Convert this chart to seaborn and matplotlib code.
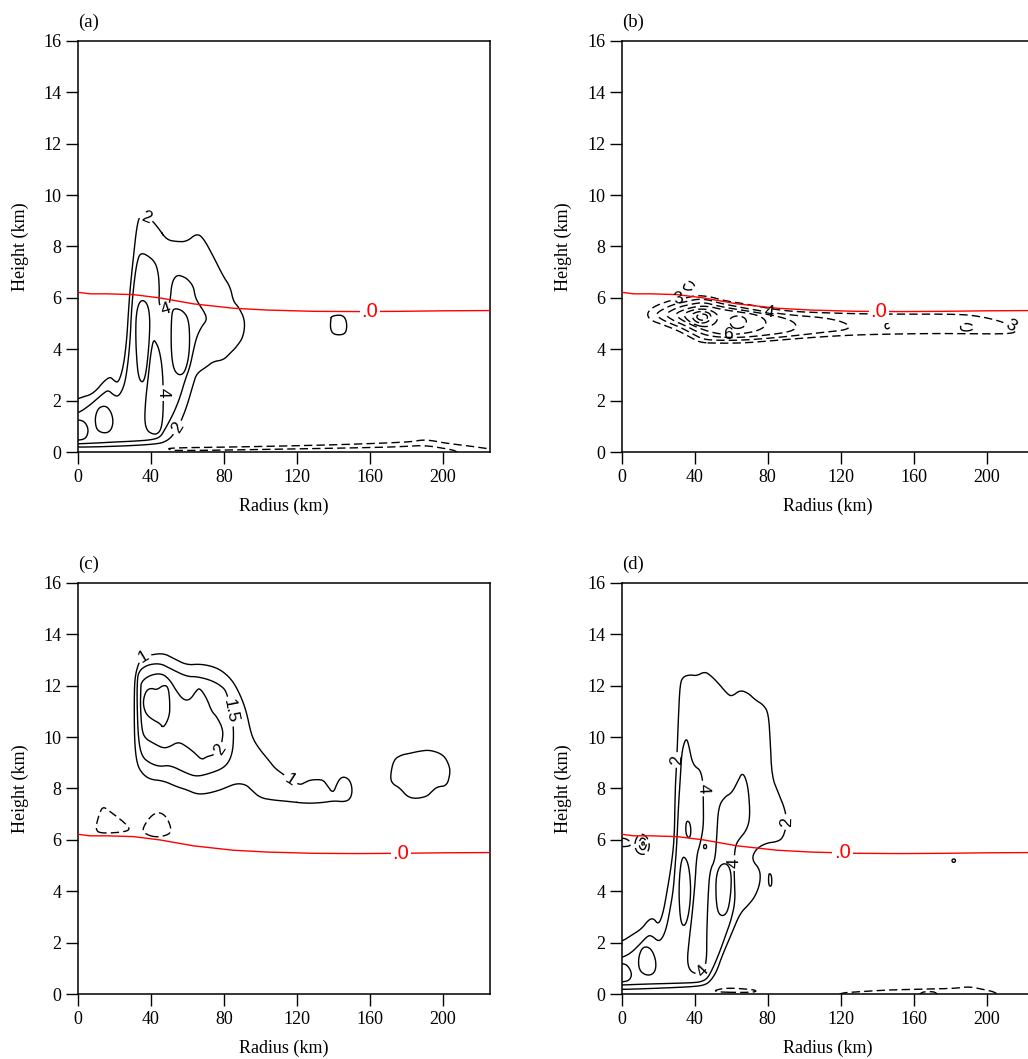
import numpy as np
import pandas as pd
import matplotlib
matplotlib.use("Agg")
import matplotlib.pyplot as plt
from matplotlib.path import Path
import seaborn as sns

# ------------------------------------------------------------------
# Values (radius in km, height in km)
# ------------------------------------------------------------------
X_TICKS = [0, 40, 80, 120, 160, 200]
Y_TICKS = [0, 2, 4, 6, 8, 10, 12, 14, 16]
PANEL_TAGS = ["(a)", "(b)", "(c)", "(d)"]
X_LABEL = "Radius (km)"
Y_LABEL = "Height (km)"

# 0 degC isotherm (red line, identical in all panels)
ISO_R = [0, 6.6, 15.7, 30.3, 45.0, 63.3, 85.2, 103.5, 129.0, 152.9, 176.6, 200.0, 226.0]
ISO_Z = [6.22, 6.16, 6.16, 6.13, 6.00, 5.77, 5.60, 5.53, 5.48, 5.47, 5.48, 5.50, 5.51]
ISO_TEXT = ".0"

# ---------------- panel (a): contour outlines (r, z) ----------------
A_LEVELS = [-2, 2, 4, 6]
A_RING2 = [(-5, 1.95), (2.9, 2.16), (6.6, 2.23), (10.2, 2.42), (13.9, 2.74), (17.6, 2.94), (19.4, 2.81),
           (22.1, 2.68), (24.9, 3.33), (26.7, 4.37), (27.6, 5.4), (28.5, 6.31), (30.4, 7.61), (32.2, 8.77),
           (34, 9.23), (37, 9.15), (40.4, 9.03), (44.1, 8.71), (48.6, 8.26), (54.1, 8.19), (59.6, 8.19),
           (65.1, 8.51), (68.8, 8.32), (74.2, 7.61), (79.7, 6.83), (83.4, 6.44), (85.2, 5.86), (87.9, 5.66),
           (91.6, 5.14), (90.7, 4.5), (87, 4.11), (83.4, 3.85), (79.7, 3.59), (74.2, 3.53), (70.6, 3.33),
           (65.1, 3.07), (63.3, 2.68), (59.6, 1.77), (56, 1.13), (54.1, 0.92), (51.4, 0.6), (48, 0.42),
           (44, 0.33), (30, 0.26), (10, 0.21), (-5, 0.2)]
A_RING4 = [(-5, 1.5), (0.2, 1.52), (6.6, 1.84), (10, 2.05), (13.9, 2.29), (16.6, 2.42), (19.4, 2.23),
           (22.1, 2.16), (24.9, 2.5), (26.7, 3.07), (28.5, 4.24), (29.4, 5.66), (31.3, 6.96), (33.1, 7.61),
           (34.9, 7.74), (37.7, 7.67), (42.2, 7.41), (44.1, 6.96), (44.6, 6.31), (44.3, 5.8), (46, 5.55),
           (48.5, 5.55), (50.5, 5.85), (51.4, 6.6), (54.1, 6.9), (57.8, 6.83), (60.5, 6.7), (63.3, 6.44),
           (64.2, 6.05), (66, 5.79), (69.7, 5.4), (70.6, 5.14), (67.8, 4.89), (65.1, 4.5), (63.3, 3.98),
           (61.4, 3.33), (58.7, 2.81), (56, 2.16), (53.2, 1.65), (50.5, 1.26), (47.7, 0.9), (45, 0.58),
           (40, 0.48), (30, 0.43), (20, 0.4), (10, 0.36), (0, 0.33), (-5, 0.33)]
A_CELL_CORNER = [(-5, 1.25), (2, 1.26), (4.6, 1.1), (5.7, 0.85), (4.8, 0.6), (2.5, 0.48), (-5, 0.46)]
A_CELL_LOW = [(12.1, 1.77), (15.7, 1.8), (18.5, 1.52), (19.4, 1.13), (17.6, 0.8), (13.9, 0.74), (10.2, 0.87),
              (9.3, 1.26), (10.2, 1.58)]
A_CELL_TALL = [(34, 5.92), (37.5, 5.86), (39.3, 5.4), (39.3, 4.6), (38.2, 3.6), (36.8, 2.9), (35, 2.68),
               (32.8, 3.0), (31.6, 4.3), (31.8, 5.4)]
A_CELL_LOBE = [(51.5, 5.5), (53.5, 5.6), (57.5, 5.5), (60.5, 5.2), (61.3, 4.5), (60.8, 3.7), (58.5, 3.1),
               (55.5, 2.98), (52.5, 3.2), (51.2, 3.8), (51, 4.7)]
A_HOLE = [(41.3, 4.37), (42.5, 4.3), (44.5, 4.0), (46.2, 3.3), (46.8, 2.3), (46.6, 1.4), (45.5, 0.88),
          (43.2, 0.7), (40.5, 0.72), (37.8, 0.85), (36.5, 1.2), (37, 2.0), (38.6, 3.0), (39.8, 3.8)]
A_BLOB = [(139, 5.3), (145, 5.35), (147.3, 5.1), (147.2, 4.7), (145, 4.56), (140, 4.58), (138.3, 4.8),
          (138.5, 5.15)]
A_NEG = [(49.4, 0.17), (80, 0.2), (110, 0.24), (140, 0.29), (165, 0.35), (183, 0.41), (188.3, 0.48),
         (193.8, 0.46), (201, 0.36), (215, 0.24), (226.7, 0.12), (232, 0.08), (232, -0.3), (208.5, -0.3),
         (208.5, 0.04), (201, 0.15), (190, 0.27), (180, 0.23), (165, 0.19), (110, 0.12), (55, 0.06), (50, 0.1)]

# ---------------- panel (b) ----------------
B_LEVELS = [-9, -8, -7, -6, -5, -4, -3]
B_C3 = [(13.7, 5.40), (17.4, 5.66), (24.7, 5.86), (30.0, 5.95), (35.3, 6.00), (41.1, 6.10), (48.5, 6.05),
        (55.8, 5.90), (64.9, 5.80), (74.1, 5.68), (90.5, 5.48), (116.0, 5.41), (134.4, 5.38), (152.7, 5.37),
        (185.6, 5.37), (196.6, 5.28), (207.5, 5.10), (213.0, 4.92), (216.7, 4.72), (213.0, 4.60),
        (189.3, 4.61), (171.0, 4.62), (134.4, 4.58), (116.1, 4.52), (97.8, 4.43), (79.5, 4.32),
        (66.7, 4.25), (53.9, 4.24), (43.0, 4.26), (37.5, 4.48), (30.2, 4.75), (22.9, 4.95), (15.5, 5.14)]
B_C4 = [(18.5, 5.38), (24.0, 5.62), (30.0, 5.78), (36.0, 5.87), (42.0, 5.96), (48.0, 5.92), (54.0, 5.79),
        (62.0, 5.68), (70.0, 5.57), (81.0, 5.44), (95.0, 5.32), (110.0, 5.24), (120.0, 5.10), (125.0, 4.92),
        (123.5, 4.76), (110.0, 4.66), (97.0, 4.55), (82.0, 4.44), (67.0, 4.36), (55.0, 4.35), (45.0, 4.38),
        (40.0, 4.56), (33.0, 4.83), (26.0, 5.03), (21.0, 5.20)]
B_C5 = [(23.5, 5.36), (30.0, 5.62), (38.0, 5.76), (45.0, 5.83), (52.0, 5.70), (60.0, 5.59), (70.0, 5.48),
        (82.0, 5.34), (91.0, 5.18), (95.5, 5.00), (95.5, 4.80), (91.0, 4.67), (80.0, 4.56), (67.0, 4.47),
        (57.0, 4.46), (48.0, 4.52), (42.0, 4.66), (35.0, 4.92), (28.0, 5.13)]
B_C6 = [(29.0, 5.38), (35.0, 5.57), (42.0, 5.68), (48.0, 5.67), (55.0, 5.55), (65.0, 5.45), (74.0, 5.35),
        (79.0, 5.15), (79.0, 4.90), (74.0, 4.71), (66.0, 4.61), (58.5, 4.57), (51.0, 4.63), (44.0, 4.78),
        (37.0, 5.00), (32.0, 5.18)]
B_C7 = [(33.5, 5.36), (38.0, 5.52), (44.0, 5.58), (49.0, 5.52), (53.0, 5.33), (52.0, 5.05), (48.0, 4.88),
        (42.0, 4.90), (36.5, 5.10)]
B_C8 = [(37.8, 5.33), (41.0, 5.46), (45.5, 5.48), (49.0, 5.37), (48.5, 5.13), (45.0, 5.01), (40.5, 5.06)]
B_C9 = [(40.8, 5.29), (43.0, 5.38), (46.5, 5.36), (47.3, 5.22), (45.0, 5.12), (42.0, 5.16)]
B_OVAL = [(60.0, 5.25), (64.0, 5.32), (67.8, 5.22), (68.6, 5.03), (66.5, 4.84), (62.0, 4.80), (59.6, 4.95),
          (59.3, 5.13)]
B_CAP = [(33.5, 6.38), (35.0, 6.60), (37.0, 6.66), (39.5, 6.55), (40.2, 6.38), (38.0, 6.31), (35.5, 6.31)]
B_DOT = [(144.5, 5.00), (146.5, 5.02), (147.2, 4.86), (145.5, 4.78), (144.3, 4.86)]
B_OVAL2 = [(186.0, 4.95), (189.0, 5.02), (192.5, 4.95), (192.9, 4.79), (190.0, 4.71), (186.5, 4.73),
           (185.6, 4.84)]

# ---------------- panel (c) ----------------
C_LEVELS = [-1, 1, 1.5, 2, 2.5]
C_L1 = [(34, 13.0), (35.8, 13.15), (39.5, 13.19), (46.8, 13.26), (52.3, 13.06), (59.6, 12.8), (66.9, 12.84),
        (74.2, 12.74), (79.7, 12.54), (85.2, 12.15), (89.8, 11.5), (92.5, 10.92), (94.4, 10.28), (96.2, 9.89),
        (99.8, 9.5), (104.4, 9.11), (108, 8.78), (112.6, 8.55), (116.3, 8.33), (118.1, 8.27), (121.8, 8.14),
        (124.5, 8.24), (127.3, 8.33), (132, 8.35), (134.6, 8.31), (136.4, 8.14), (139.8, 7.8), (142, 8.2),
        (144, 8.42), (146.5, 8.45), (149.2, 8.3), (150.4, 7.95), (149.5, 7.62), (146.5, 7.48), (140.1, 7.52),
        (134, 7.45), (125, 7.42), (115, 7.5), (107, 7.55), (99.8, 7.64), (95, 7.95), (92, 8.15), (87, 8.2),
        (81.5, 8.05), (77.9, 7.94), (70.6, 7.8), (65.1, 7.78), (59.6, 7.95), (54.1, 8.07), (46.8, 8.3),
        (39.5, 8.35), (35, 8.59), (32.2, 8.98), (30.9, 9.89), (30.8, 11.83), (31.6, 12.5)]
C_L15 = [(32.4, 12.09), (33.1, 12.54), (37.6, 12.8), (44.9, 12.87), (50.4, 12.67), (59.6, 12.35),
         (65.1, 12.35), (72.4, 12.22), (77.9, 12.02), (81.5, 11.77), (83.4, 11.05), (85.2, 10.54),
         (85.2, 9.63), (83.4, 9.11), (79.7, 8.79), (72.4, 8.59), (65.1, 8.46), (59.6, 8.59), (50.4, 8.91),
         (44.9, 8.85), (39.5, 8.98), (35, 9.24), (33.1, 9.89), (32.4, 11.18)]
C_L2 = [(34.4, 11.83), (34.6, 12.15), (39.5, 12.41), (45.9, 12.48), (50.4, 12.22), (54.1, 11.77),
        (57.8, 11.44), (61.4, 11.44), (65.1, 11.83), (66.9, 11.9), (70.6, 11.5), (73.3, 10.99), (76.1, 10.79),
        (79.7, 10.27), (78.8, 9.76), (77.9, 9.5), (74.2, 9.3), (70.6, 9.24), (67.8, 9.11), (64.2, 9.37),
        (59.6, 9.63), (55, 9.82), (50.4, 9.63), (46.8, 9.56), (41.3, 9.76), (36.8, 9.95), (35, 10.27),
        (34.2, 11.18)]
C_L25 = [(37.6, 11.83), (40.4, 11.9), (43.1, 11.83), (46.8, 12.02), (49.5, 11.96), (50.4, 11.31),
         (50.1, 10.79), (46.8, 10.34), (44.9, 10.53), (41.3, 10.66), (37.6, 10.86), (35.9, 11.18), (35.9, 11.5)]
C_BLOB = [(171.2, 8.5), (173, 9.11), (177, 9.3), (182.1, 9.37), (187, 9.45), (193.1, 9.5), (200.4, 9.31),
          (203.5, 8.9), (204, 8.59), (202.2, 8.1), (196.8, 8.07), (193.5, 7.85), (191.2, 7.69), (185, 7.6),
          (180.3, 7.69), (176.6, 8.01), (172, 8.2)]
C_NEG1 = [(10.2, 6.65), (12.1, 7.1), (13.9, 7.3), (17.6, 7.1), (21.2, 6.91), (25.8, 6.65), (28.9, 6.39),
          (23, 6.29), (12.1, 6.26), (9.9, 6.39)]
C_NEG2 = [(34.9, 6.39), (39.5, 6.91), (44.1, 7.1), (48.6, 6.91), (51.4, 6.39), (49.6, 6.2), (43.2, 6.1),
          (37.7, 6.2)]

# ---------------- panel (d) ----------------
D_LEVELS = [-2, 2, 4, 6]
D_RING2 = [(-5, 2.05), (0, 2.05), (5.5, 2.3), (11, 2.55), (14.6, 2.89), (17.4, 2.96), (20.1, 2.7), (22.5, 3.1),
           (24.7, 3.93), (27.4, 5.1), (28.9, 6.13), (29.3, 7.95), (30.2, 9.11), (31.1, 10.8), (32, 12.09),
           (33.8, 12.35), (37.5, 12.42), (41.1, 12.38), (45.7, 12.55), (49.4, 12.35), (53, 12.09),
           (57.6, 11.7), (60.3, 11.57), (64.9, 11.83), (69.5, 11.7), (73.1, 11.45), (77.7, 11.25),
           (80.4, 10.93), (81.4, 9.89), (82.3, 8.46), (85.9, 7.82), (89.6, 7.17), (90.5, 6.65), (88.7, 6.13),
           (85.9, 5.94), (78.6, 5.87), (73.1, 5.61), (71.3, 5.23), (75.9, 4.84), (75.9, 4.32), (73.1, 3.8),
           (69.5, 3.48), (64.9, 3.15), (60.3, 2.37), (54.9, 1.47), (52.1, 0.9), (49, 0.55), (46, 0.37),
           (40, 0.3), (25, 0.25), (10, 0.21), (0, 0.19), (-5, 0.19)]
D_RING4 = [(-5, 1.42), (0, 1.42), (5, 1.6), (10, 1.95), (14.6, 2.3), (17, 2.25), (20.1, 2.05), (22.5, 2.2),
           (24.7, 2.63), (26.5, 3.3), (28.3, 4.06), (29.3, 5.0), (30.2, 5.87), (31.1, 7.3), (32.2, 8.5),
           (32.9, 9.37), (34.5, 9.85), (35.8, 9.92), (37, 9.6), (38.4, 9.1), (40.2, 8.85), (43, 8.72),
           (44.5, 8.3), (44.8, 7.3), (44.8, 6.5), (43, 5.85), (41.1, 5.4), (40.2, 4.32), (38.6, 3.1),
           (36.8, 2.0), (35.9, 1.3), (37.3, 0.92), (41.1, 0.78), (44.8, 0.88), (46.6, 1.34), (46.6, 2.37),
           (47.5, 4.06), (48.5, 4.84), (51.2, 5.23), (52.1, 6.13), (53, 7.3), (56.7, 7.69), (60.3, 7.82),
           (64, 8.33), (65.8, 8.59), (67.7, 8.46), (69.5, 7.95), (70.4, 6.91), (68.6, 6.39), (64, 6.0),
           (62.2, 5.74), (61.5, 5.1), (61.8, 4.4), (62.2, 3.6), (60, 2.9), (57, 2.3), (54.5, 1.8), (52, 1.35),
           (49.5, 0.95), (47, 0.62), (44, 0.5), (40, 0.45), (25, 0.42), (10, 0.39), (0, 0.36), (-5, 0.36)]
D_CELL_CORNER = [(-5, 1.2), (1.5, 1.2), (4, 1.05), (5.5, 0.8), (4.8, 0.6), (2.5, 0.49), (-5, 0.47)]
D_CELL_LOW = [(11, 1.79), (13.7, 1.86), (16.5, 1.73), (18.7, 1.34), (18.7, 0.95), (16.5, 0.75), (12.8, 0.75),
              (9.5, 0.95), (9.1, 1.4)]
D_CELL_SMALL = [(35.8, 6.75), (37.3, 6.68), (38, 6.4), (37.6, 6.12), (36.2, 6.08), (35.1, 6.3), (35.2, 6.6)]
D_CELL_TALL = [(32.9, 5.29), (34.7, 5.35), (36.9, 4.97), (38, 4.06), (36.9, 3.15), (34.7, 2.63), (32.4, 2.76),
               (31.4, 3.67), (31.6, 4.58)]
D_CELL_OVAL = [(53.9, 5.03), (57.6, 5.1), (60, 4.77), (60, 4.06), (58.5, 3.28), (55.8, 3.02), (52.7, 3.15),
               (51.6, 3.8), (51.7, 4.58)]
D_DOT4 = [(44.9, 5.82), (46.5, 5.82), (46.5, 5.66), (44.9, 5.66)]
D_DOT2 = [(181.1, 5.26), (182.9, 5.26), (182.9, 5.13), (181.1, 5.13)]
D_SPECK2 = [(81, 4.72), (82.2, 4.6), (82.3, 4.25), (81.3, 4.18), (80.5, 4.3), (80.5, 4.6)]
D_NEG_EDGE = [(-5, 6.05), (1.5, 6.08), (4.5, 5.95), (5.2, 5.82), (3.5, 5.74), (-5, 5.74)]
D_NEG_RING = [(7, 5.85), (8.5, 6.15), (11.5, 6.25), (14.5, 6.05), (15.3, 5.75), (14, 5.48), (11, 5.42),
              (8, 5.55)]
D_NEG_HOLE = [(9.3, 5.85), (10.5, 6.08), (12.7, 6.06), (13.7, 5.85), (12.7, 5.63), (10.5, 5.62)]
D_NEG_DOT = [(11.1, 5.92), (12.3, 5.92), (12.3, 5.79), (11.1, 5.79)]
D_NEG_BAND1 = [(51, 0.15), (55, 0.22), (60, 0.24), (67, 0.21), (73, 0.17), (74, 0.1), (68, 0.07), (57, 0.08),
               (52, 0.1)]
D_NEG_BAND2 = [(118, 0.04), (130, 0.1), (146.5, 0.17), (165, 0.2), (183, 0.23), (190.2, 0.3), (197.5, 0.2),
               (206.2, 0.06), (208, -0.3), (175, -0.3), (172.8, 0.08), (168, 0.11), (163.6, 0.07), (161, -0.3),
               (118, -0.3)]

# ------------------------------------------------------------------
# Layout / style (kept apart from the data)
# ------------------------------------------------------------------
R_MAX, Z_MAX = 226.0, 16.0
AX_POS = [[0.07588, 0.57290, 0.40107, 0.38867],
          [0.60477, 0.57290, 0.40107, 0.38867],
          [0.07588, 0.06110, 0.40107, 0.38867],
          [0.60477, 0.06110, 0.40107, 0.38867]]
PXR = 412.3 / R_MAX      # display px per km (radius)
PXZ = 411.6 / Z_MAX      # display px per km (height)
ISO_LABEL_AT = [160, 141, 177, 121]
LABEL_AT = {
    0: [(37.3, 9.16), (48.0, 5.55), (46.8, 2.3), (54.6, 0.96)],
    1: [(31.0, 5.95), (213.0, 4.9), (81.0, 5.44), (58.5, 4.57)],
    2: [(35.8, 13.15), (84.2, 11.0), (77.9, 9.5), (116.3, 8.33)],
    3: [(30.2, 9.11), (44.8, 8.0), (90.2, 6.7), (61.5, 5.1), (44.8, 0.88)],
}

R_GRID = np.arange(0.0, R_MAX + 1e-9, 0.4)
Z_GRID = np.arange(0.0, Z_MAX + 1e-9, 0.02)
RR, ZZ = np.meshgrid(R_GRID, Z_GRID)
XP, YP = RR * PXR, ZZ * PXZ


def chaikin(pts, n=2):
    p = np.asarray(pts, float)
    for _ in range(n):
        q = np.roll(p, -1, axis=0)
        p = np.stack([0.75 * p + 0.25 * q, 0.25 * p + 0.75 * q], axis=1).reshape(-1, 2)
    return p


def indicator(poly, w=1.0, margin=10.0):
    p = chaikin(poly)
    px, py = p[:, 0] * PXR, p[:, 1] * PXZ
    out = np.zeros(RR.shape)
    cols = np.where((R_GRID * PXR >= px.min() - margin) & (R_GRID * PXR <= px.max() + margin))[0]
    rows = np.where((Z_GRID * PXZ >= py.min() - margin) & (Z_GRID * PXZ <= py.max() + margin))[0]
    if cols.size == 0 or rows.size == 0:
        return out
    sl = (slice(rows[0], rows[-1] + 1), slice(cols[0], cols[-1] + 1))
    X, Y = XP[sl], YP[sl]
    d2 = np.full(X.shape, np.inf)
    for x0, y0, x1, y1 in zip(px, py, np.roll(px, -1), np.roll(py, -1)):
        dx, dy = x1 - x0, y1 - y0
        L = dx * dx + dy * dy
        if L == 0:
            continue
        t = np.clip(((X - x0) * dx + (Y - y0) * dy) / L, 0.0, 1.0)
        ex = X - x0 - t * dx
        ey = Y - y0 - t * dy
        d2 = np.minimum(d2, ex * ex + ey * ey)
    inside = Path(np.column_stack([px, py])).contains_points(
        np.column_stack([X.ravel(), Y.ravel()])).reshape(X.shape)
    sd = np.where(inside, 1.0, -1.0) * np.sqrt(d2)
    out[sl] = 0.5 * (1.0 + np.tanh(sd / w))
    return out


def build(base, parts):
    F = np.full(RR.shape, float(base))
    for poly, step in parts:
        F += step * indicator(poly)
    return F


FIELDS = [
    (build(1.0, [(A_RING2, 2), (A_RING4, 2), (A_CELL_CORNER, 2), (A_CELL_LOW, 2), (A_CELL_TALL, 2),
                 (A_CELL_LOBE, 2), (A_HOLE, -2), (A_BLOB, 2), (A_NEG, -6)]), A_LEVELS),
    (build(-2.5, [(B_C3, -1), (B_C4, -1), (B_C5, -1), (B_C6, -1), (B_C7, -1), (B_C8, -1), (B_C9, -1),
                  (B_OVAL, -1), (B_CAP, -1), (B_DOT, -1), (B_OVAL2, -1)]), B_LEVELS),
    (build(0.75, [(C_L1, 0.5), (C_L15, 0.5), (C_L2, 0.5), (C_L25, 0.5), (C_BLOB, 0.5),
                  (C_NEG1, -3.5), (C_NEG2, -3.5)]), C_LEVELS),
    (build(1.0, [(D_RING2, 2), (D_RING4, 2), (D_CELL_CORNER, 2), (D_CELL_LOW, 2), (D_CELL_SMALL, 2),
                 (D_CELL_TALL, 2), (D_CELL_OVAL, 2), (D_DOT4, 2), (D_DOT2, 2), (D_SPECK2, 2),
                 (D_NEG_EDGE, -6), (D_NEG_RING, -6), (D_NEG_HOLE, 6), (D_NEG_DOT, -6),
                 (D_NEG_BAND1, -6), (D_NEG_BAND2, -6)]), D_LEVELS),
]

# ------------------------------------------------------------------
sns.set_theme(style="ticks")
plt.rcParams["font.family"] = ["Liberation Sans", "DejaVu Sans"]
plt.rcParams.update({
    "axes.edgecolor": "black", "axes.linewidth": 1.1,
    "xtick.color": "black", "ytick.color": "black",
    "axes.labelcolor": "black", "text.color": "black",
})
SERIF = ["Liberation Serif", "DejaVu Serif"]

fig = plt.figure(figsize=(10.28, 10.59), dpi=100)
iso_df = pd.DataFrame({"r": ISO_R, "z": ISO_Z})

for i, (F, levels) in enumerate(FIELDS):
    ax = fig.add_axes(AX_POS[i])
    ax.set_xlim(0, R_MAX)
    ax.set_ylim(0, Z_MAX)
    styles = [(0, (6.0, 3.0)) if lv < 0 else "solid" for lv in levels]
    cs = ax.contour(R_GRID, Z_GRID, F, levels=levels, colors="black",
                    linewidths=1.0, linestyles=styles)
    fmt = {lv: f"{abs(lv):g}" for lv in cs.levels}
    ax.clabel(cs, manual=LABEL_AT[i], inline=True, inline_spacing=3,
              fmt=fmt, fontsize=12.5, colors="black")

    sns.lineplot(data=iso_df, x="r", y="z", color="red", linewidth=1.0, ax=ax,
                 legend=False, sort=False, zorder=3)
    r_lab = ISO_LABEL_AT[i]
    ax.text(r_lab, np.interp(r_lab, ISO_R, ISO_Z), ISO_TEXT, color="red", fontsize=14.5,
            ha="center", va="center", zorder=4,
            bbox=dict(facecolor="white", edgecolor="none", pad=1.5))

    ax.set_xlim(0, R_MAX)
    ax.set_ylim(0, Z_MAX)
    ax.set_xticks(X_TICKS)
    ax.set_yticks(Y_TICKS)
    ax.tick_params(direction="out", length=8.3, width=1.0, labelsize=13, pad=3.5,
                   labelfontfamily=SERIF[0], top=False, right=False)
    ax.set_xlabel(X_LABEL, fontsize=13, fontfamily=SERIF)
    ax.set_ylabel(Y_LABEL, fontsize=13, fontfamily=SERIF)
    ax.xaxis.set_label_coords(0.5, -0.111)
    ax.yaxis.set_label_coords(-0.12, 0.5)
    for s in ax.spines.values():
        s.set_visible(True)
        s.set_color("black")
        s.set_linewidth(1.1)
    ax.text(0.0, 1.045, PANEL_TAGS[i], transform=ax.transAxes, ha="left", va="center",
            fontsize=13.5, fontfamily=SERIF)

fig.savefig("out.png", dpi=100)
